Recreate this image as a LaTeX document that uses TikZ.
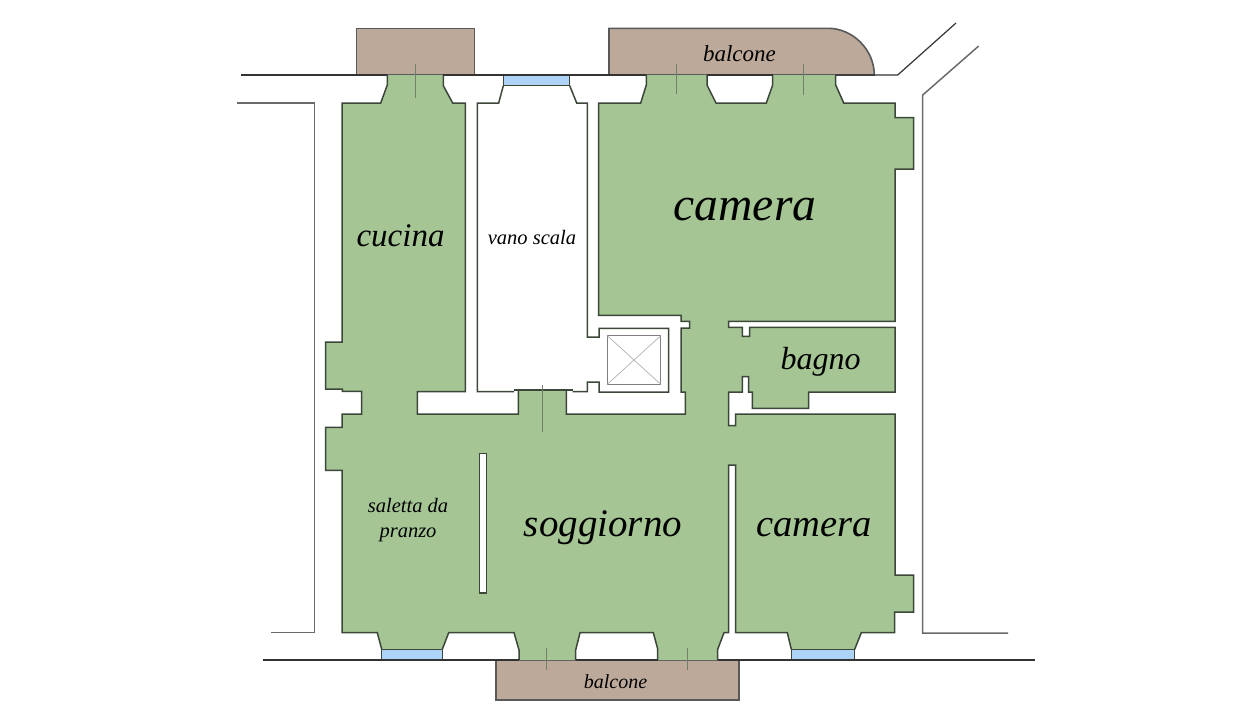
\documentclass[tikz,border=0pt]{standalone}
\usepackage{fontspec}
\setmainfont{Liberation Serif}
\definecolor{roomgreen}{HTML}{A5C694}
\definecolor{brownbal}{HTML}{BDA999}
\definecolor{glass}{HTML}{ADD3F8}
\definecolor{wallink}{HTML}{3C473A}
\definecolor{outerink}{HTML}{6A6A6A}
\definecolor{tickink}{HTML}{70806A}
\newcommand{\labelfont}[1]{\fontsize{#1}{#1}\selectfont\itshape}
\tikzset{
  roomfill/.style={fill=roomgreen,draw=none},
  wall/.style={draw=wallink,line width=1.5pt,line join=miter},
  outerwall/.style={draw=outerink,line width=1.5pt,line join=miter},
  baseline wall/.style={draw=black!80,line width=1.2pt},
  balcony/.style={fill=brownbal,draw=black!65,line width=1.6pt},
  windowpane/.style={fill=glass,draw=wallink,line width=1.2pt},
  tick/.style={draw=tickink,line width=0.7pt},
  liftbox/.style={draw=black!50,line width=0.8pt},
  liftx/.style={draw=black!30,line width=0.7pt},
  roomlabel/.style={inner sep=0pt,align=center,text=black}
}
\begin{document}
\begin{tikzpicture}[x=1pt,y=-1pt]
\useasboundingbox (0,0) rectangle (1240,720);
\fill[white] (0,0) rectangle (1240,720);
% balconies
\draw[balcony] (356.3,75) -- (356.3,28.3) -- (474.3,28.3) -- (474.3,75) -- cycle;
\draw[balcony] (609,75) -- (609,28.3) -- (828,28.3) .. controls (853,28.3) and (874.3,50) .. (874.3,75) -- cycle;
\draw[balcony] (495.7,660) -- (495.7,699.7) -- (739,699.7) -- (739,660) -- cycle;
% rooms fill
\fill[roomfill] (387.3,75) -- (443.3,75) -- (443.3,85.7) -- (452.7,103) -- (465.3,103) -- (465.3,391.7) -- (417.3,391.7) -- (417.3,414) -- (518.3,414) -- (518.3,391) -- (566.3,391) -- (566.3,414) -- (685.3,414) -- (685.3,392) -- (681,392) -- (681,328) -- (689.7,328) -- (689.7,321.3) -- (681,321.3) -- (681,315.3) -- (598.7,315.3) -- (598.7,103) -- (640.7,103) -- (646.3,85) -- (646.3,75) -- (707,75) -- (707,85) -- (716,103) -- (766.3,103) -- (772.7,85) -- (772.7,75) -- (835.7,75) -- (835.7,85) -- (843.7,103) -- (895,103) -- (895,117.7) -- (913.7,117.7) -- (913.7,169) -- (895,169) -- (895,321.3) -- (728.7,321.3) -- (728.7,327.3) -- (742.3,327.3) -- (742.3,336.3) -- (749.7,336.3) -- (749.7,327.3) -- (895,327.3) -- (895,392) -- (808.7,392) -- (808.7,408.3) -- (752.3,408.3) -- (752.3,392) -- (748.7,392) -- (748.7,376.7) -- (742.3,376.7) -- (742.3,392) -- (728.7,392) -- (728.7,425.7) -- (735.7,425.7) -- (735.7,414) -- (895,414) -- (895,575) -- (913.7,575) -- (913.7,612) -- (894.7,612) -- (894.7,632.7) -- (861.3,632.7) -- (854.7,649.3) -- (791.3,649.3) -- (787.3,632.7) -- (735.7,632.7) -- (735.7,465) -- (728.7,465) -- (728.7,632.7) -- (724,632.7) -- (717.7,649.3) -- (717.7,660) -- (657.7,660) -- (657.7,649) -- (653.3,632.7) -- (580,632.7) -- (575.7,650) -- (575.7,660) -- (519,660) -- (519,650) -- (514,632.7) -- (448.7,632.7) -- (442.3,649.3) -- (381.7,649.3) -- (377.3,632.7) -- (342,632.7) -- (342,470.3) -- (325.7,470.3) -- (325.7,427.3) -- (342,427.3) -- (342,414) -- (361.7,414) -- (361.7,391.3) -- (342.3,391.3) -- (342.3,389) -- (325.7,389) -- (325.7,342) -- (342,342) -- (342,103) -- (380.7,103) -- (387.3,85) -- cycle;
\draw[fill=white,wall] (479.3,453.7) rectangle (486.7,593);
% room outlines, open where rooms meet the facade
\draw[wall] (387.3,75) -- (387.3,85) -- (380.7,103) -- (342,103) -- (342,342) -- (325.7,342) -- (325.7,389) -- (342.3,389) -- (342.3,391.3) -- (361.7,391.3) -- (361.7,414) -- (342,414) -- (342,427.3) -- (325.7,427.3) -- (325.7,470.3) -- (342,470.3) -- (342,632.7) -- (377.3,632.7) -- (381.7,649.3);
\draw[wall] (443.3,75) -- (443.3,85.7) -- (452.7,103) -- (465.3,103) -- (465.3,391.7) -- (417.3,391.7) -- (417.3,414) -- (518.3,414) -- (518.3,391);
\draw[wall] (566.3,391) -- (566.3,414) -- (685.3,414) -- (685.3,392) -- (681,392) -- (681,328) -- (689.7,328) -- (689.7,321.3) -- (681,321.3) -- (681,315.3) -- (598.7,315.3) -- (598.7,103) -- (640.7,103) -- (646.3,85) -- (646.3,75);
\draw[wall] (707,75) -- (707,85) -- (716,103) -- (766.3,103) -- (772.7,85) -- (772.7,75);
\draw[wall] (835.7,75) -- (835.7,85) -- (843.7,103) -- (895,103) -- (895,117.7) -- (913.7,117.7) -- (913.7,169) -- (895,169) -- (895,321.3) -- (728.7,321.3) -- (728.7,327.3) -- (742.3,327.3) -- (742.3,336.3) -- (749.7,336.3) -- (749.7,327.3) -- (895,327.3) -- (895,392) -- (808.7,392) -- (808.7,408.3) -- (752.3,408.3) -- (752.3,392) -- (748.7,392) -- (748.7,376.7) -- (742.3,376.7) -- (742.3,392) -- (728.7,392) -- (728.7,425.7) -- (735.7,425.7) -- (735.7,414) -- (895,414) -- (895,575) -- (913.7,575) -- (913.7,612) -- (894.7,612) -- (894.7,632.7) -- (861.3,632.7) -- (854.7,649.3);
\draw[wall] (791.3,649.3) -- (787.3,632.7) -- (735.7,632.7) -- (735.7,465) -- (728.7,465) -- (728.7,632.7) -- (724,632.7) -- (717.7,649.3) -- (717.7,660);
\draw[wall] (657.7,660) -- (657.7,649) -- (653.3,632.7) -- (580,632.7) -- (575.7,650) -- (575.7,660);
\draw[wall] (519,660) -- (519,650) -- (514,632.7) -- (448.7,632.7) -- (442.3,649.3);
% stairwell and lift shaft
\draw[wall] (503.3,85.7) -- (498.7,103) -- (477.3,103) -- (477.3,391.7) -- (514,391.7);
\draw[wall] (572.7,391.7) -- (587.3,391.7) -- (587.3,382) -- (599,382) -- (599,392) -- (668.7,392) -- (668.7,328.3) -- (599,328.3) -- (599,337) -- (587.3,337) -- (587.3,103) -- (576.7,103) -- (569.7,85.7);
\draw[wall,line width=1.8pt] (514,390.3) -- (572.7,390.3);
\draw[liftbox] (607.3,335.7) rectangle (660.7,384.3);
\draw[liftx] (607.3,335.7) -- (660.7,384.3) (660.7,335.7) -- (607.3,384.3);
% windows
\draw[windowpane] (503.3,75) rectangle (569.7,85.7);
\draw[windowpane] (381.7,649.3) rectangle (442.3,660);
\draw[windowpane] (791.3,649.3) rectangle (854.7,660);
% facade lines
\draw[baseline wall] (241,75) -- (387.3,75);
\draw[baseline wall] (443.3,75) -- (646.3,75);
\draw[baseline wall] (707,75) -- (772.7,75);
\draw[baseline wall] (835.7,75) -- (897.7,75) -- (956,23);
\draw[baseline wall] (262.7,660) -- (519,660);
\draw[baseline wall] (575.7,660) -- (657.7,660);
\draw[baseline wall] (717.7,660) -- (1034.7,660);
% neighbouring walls
\draw[outerwall] (237.3,103) -- (314.3,103) -- (314.3,632.7) -- (270.7,632.7);
\draw[outerwall] (978.7,46) -- (922.7,95) -- (922.7,633) -- (1008,633);
% door ticks
\draw[tick] (415.3,64) -- (415.3,97.7);
\draw[tick] (676.3,64) -- (676.3,94);
\draw[tick] (803,64) -- (803,95);
\draw[tick] (542,385) -- (542,432);
\draw[tick] (546.3,648) -- (546.3,670);
\draw[tick] (687.3,648) -- (687.3,670);
% labels
\node[roomlabel,font=\labelfont{47.5}] (camerabig) at (745,210) {camera};
\node[roomlabel,font=\labelfont{33}] (cucina) at (400.5,236) {cucina};
\node[roomlabel,font=\labelfont{20.5}] (vano) at (532,237) {vano scala};
\node[roomlabel,font=\labelfont{32}] (bagno) at (820.5,362) {bagno};
\node[roomlabel,font=\labelfont{39}] (soggiorno) at (603,528) {soggiorno};
\node[roomlabel,font=\labelfont{38.5}] (cameraz) at (814,528) {camera};
\node[roomlabel,font=\labelfont{20.5}] (saletta) at (408,520) {saletta da\\[5pt]pranzo};
\node[roomlabel,font=\labelfont{23}] (balconetop) at (739.5,54) {balcone};
\node[roomlabel,font=\labelfont{20}] (balconebot) at (615.5,682) {balcone};
\end{tikzpicture}
\end{document}
